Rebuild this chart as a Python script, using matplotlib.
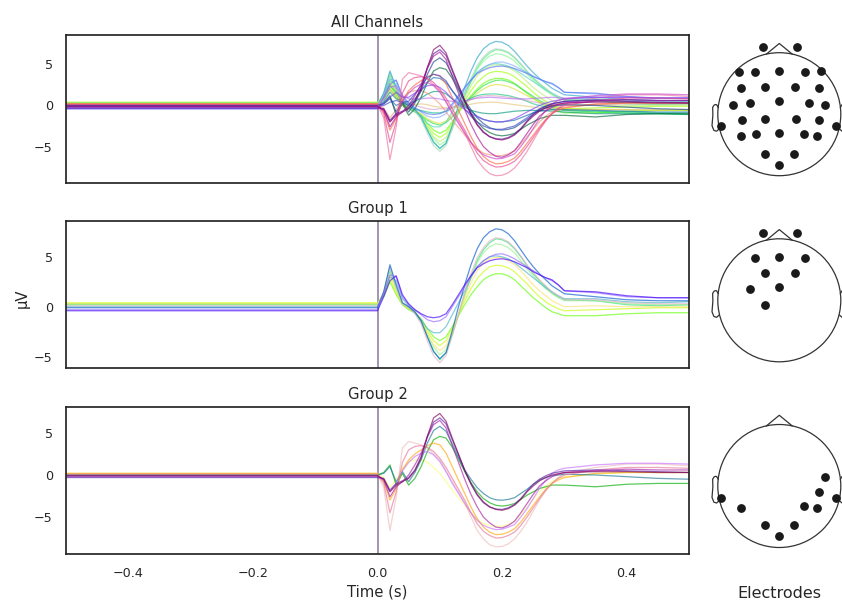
import numpy as np
import matplotlib.pyplot as plt

plt.rcParams.update({
    "font.family": "DejaVu Sans",
    "text.color": "0.15",
    "axes.edgecolor": "0.15",
    "axes.linewidth": 1.25,
    "axes.labelcolor": "0.15",
    "xtick.color": "0.15",
    "ytick.color": "0.15",
})

FIG_W, FIG_H = 842, 603

# sample times (s)
PRE_TIMES = [-0.5, 0.0]
POST_TIMES = [0.01, 0.02, 0.03, 0.04, 0.05, 0.06, 0.07, 0.08, 0.09, 0.10,
              0.11, 0.12, 0.13, 0.14, 0.15, 0.16, 0.17, 0.18, 0.19, 0.20,
              0.21, 0.22, 0.23, 0.24, 0.25, 0.26, 0.27, 0.28, 0.29, 0.30,
              0.35, 0.40, 0.45, 0.50]

# electrode layout on the flattened head (unit radius)
CH_NAMES = ["Fp1", "Fp2", "F7", "F3", "Fz", "F4", "F8",
            "FC5", "FC1", "FC2", "FC6",
            "C5", "C3", "Cz", "C4", "C6",
            "T7", "CP5", "CP1", "CP2", "CP6", "T8",
            "P7", "P3", "Pz", "P4", "P8",
            "O1", "Oz", "O2"]
CH_X = [-0.27, 0.28, -0.65, -0.39, 0.0, 0.41, 0.68,
        -0.62, -0.24, 0.25, 0.64,
        -0.75, -0.47, 0.0, 0.49, 0.75,
        -0.94, -0.61, -0.24, 0.27, 0.64, 0.93,
        -0.62, -0.38, 0.0, 0.40, 0.62,
        -0.24, 0.0, 0.24]
CH_Y = [1.09, 1.09, 0.69, 0.69, 0.71, 0.69, 0.71,
        0.42, 0.45, 0.45, 0.43,
        0.15, 0.18, 0.21, 0.18, 0.15,
        -0.19, -0.09, -0.07, -0.07, -0.09, -0.20,
        -0.35, -0.32, -0.30, -0.32, -0.35,
        -0.64, -0.82, -0.64]

# mean pre-stimulus level (µV), same order as CH_NAMES
BASELINE = [0.3, 0.4, 0.3, 0.2, 0.3, 0.3, 0.2,
            0.2, 0.0, 0.1, 0.2,
            0.1, -0.1, -0.3, 0.0, 0.2,
            0.0, 0.0, -0.4, -0.2, 0.1, 0.2,
            0.0, -0.1, -0.4, -0.2, 0.1,
            -0.3, -0.1, -0.1]

GROUP_1 = ["Fp1", "Fp2", "F3", "Fz", "F4", "FC1", "FC2", "C3", "Cz", "CP1"]
GROUP_2 = ["C6", "CP6", "T7", "T8", "P7", "P4", "P8", "O1", "O2", "Oz"]

# evoked amplitude (µV) at POST_TIMES
FP1 = [1.0, 2.5, 1.2, 0.2, -0.3, -0.6, -1.2, -2.2, -3.0, -3.4, -3.0, -2.0, -0.9, 0.2, 1.2, 2.0, 2.7, 3.1, 3.3, 3.3, 3.1, 2.7, 2.1, 1.5, 0.9, 0.4, -0.1, -0.5, -0.7, -0.9, -0.9, -0.7, -0.6, -0.6]
FP2 = [1.1, 2.8, 1.4, 0.3, -0.2, -0.6, -1.3, -2.5, -3.4, -3.9, -3.4, -2.2, -0.8, 0.6, 1.8, 2.8, 3.5, 4.0, 4.15, 4.1, 3.9, 3.5, 2.9, 2.3, 1.6, 1.0, 0.5, 0.1, -0.2, -0.4, -0.3, -0.2, -0.1, -0.1]
F7 = [0.8, 2.0, 1.0, 0.0, -0.4, -0.8, -1.2, -1.8, -2.2, -2.4, -2.1, -1.4, -0.6, 0.2, 1.0, 1.8, 2.4, 2.8, 3.05, 3.1, 2.9, 2.6, 2.1, 1.6, 1.1, 0.6, 0.2, -0.2, -0.4, -0.6, -0.8, -0.9, -1.0, -1.1]
F3 = [1.3, 3.6, 1.8, 0.3, -0.1, -0.6, -1.5, -3.0, -4.4, -5.3, -4.6, -2.8, -0.8, 1.2, 3.0, 4.6, 5.7, 6.4, 6.8, 6.7, 6.4, 5.8, 5.0, 4.1, 3.3, 2.6, 2.0, 1.4, 1.0, 0.7, 0.6, 0.2, 0.1, 0.2]
FZ = [1.4, 3.9, 1.9, 0.4, 0.0, -0.5, -1.4, -2.8, -4.0, -4.8, -4.3, -2.6, -0.7, 1.2, 2.9, 4.4, 5.4, 6.0, 6.3, 6.2, 5.9, 5.4, 4.6, 3.8, 3.1, 2.4, 1.8, 1.3, 0.9, 0.6, 0.6, 0.3, 0.2, 0.2]
F4 = [1.2, 3.2, 1.6, 0.3, -0.1, -0.5, -1.3, -2.7, -3.8, -4.4, -3.9, -2.5, -0.8, 0.9, 2.4, 3.6, 4.4, 4.8, 4.95, 4.9, 4.6, 4.2, 3.6, 2.9, 2.2, 1.6, 1.1, 0.6, 0.3, 0.0, 0.1, 0.0, 0.0, 0.0]
F8 = [0.8, 2.1, 1.0, 0.0, -0.3, -0.6, -1.0, -1.6, -2.0, -2.2, -1.9, -1.2, -0.6, 0.1, 0.8, 1.5, 2.0, 2.4, 2.55, 2.5, 2.3, 2.0, 1.6, 1.2, 0.8, 0.4, 0.1, -0.1, -0.3, -0.4, -0.5, -0.5, -0.6, -0.6]
FC5 = [0.9, 2.4, 1.6, 0.4, -0.3, -0.5, -0.6, -0.8, -0.9, -0.9, -0.7, -0.3, 0.1, 0.5, 0.9, 1.2, 1.35, 1.4, 1.4, 1.3, 1.2, 1.0, 0.8, 0.5, 0.2, 0.0, -0.2, -0.4, -0.5, -0.6, -0.7, -0.8, -0.9, -0.9]
FC1 = [1.2, 3.0, 2.6, 0.8, 0.1, -0.6, -1.3, -2.2, -2.6, -2.6, -2.0, -0.8, 0.4, 1.6, 2.9, 4.0, 4.6, 5.0, 5.1, 5.0, 4.8, 4.4, 3.9, 3.4, 2.9, 2.4, 1.9, 1.5, 1.1, 0.8, 0.8, 0.5, 0.4, 0.5]
FC2 = [1.5, 4.0, 2.0, 0.3, -0.1, -0.7, -1.7, -3.4, -4.9, -5.6, -4.9, -2.9, -0.8, 1.5, 3.3, 4.9, 5.9, 6.6, 6.9, 6.8, 6.5, 5.9, 5.1, 4.2, 3.4, 2.7, 2.1, 1.5, 1.1, 0.7, 0.7, 0.4, 0.3, 0.3]
FC6 = [0.7, 1.8, 1.2, 0.3, 0.0, 0.1, 0.2, 0.1, -0.1, -0.2, -0.3, -0.3, -0.2, 0.0, 0.15, 0.3, 0.35, 0.4, 0.4, 0.3, 0.2, 0.1, 0.0, -0.1, -0.2, -0.3, -0.35, -0.4, -0.45, -0.5, -0.5, -0.5, -0.5, -0.5]
C5 = [0.5, 1.6, 0.8, 0.6, 0.2, 0.5, 0.9, 1.4, 1.7, 1.7, 1.4, 0.8, 0.3, -0.2, -0.6, -0.8, -0.95, -1.0, -1.0, -0.9, -0.8, -0.7, -0.65, -0.6, -0.6, -0.6, -0.65, -0.7, -0.75, -0.8, -1.0, -1.0, -1.0, -1.1]
C3 = [1.5, 4.2, 2.2, 0.4, 0.0, -0.5, -1.4, -3.0, -4.5, -5.2, -4.6, -2.4, 0.0, 2.2, 4.2, 5.8, 6.9, 7.5, 7.8, 7.7, 7.3, 6.6, 5.7, 4.8, 4.0, 3.3, 2.7, 2.1, 1.7, 1.3, 1.0, 0.7, 0.6, 0.6]
CZ = [1.3, 3.2, 3.0, 1.0, 0.2, -0.3, -0.8, -1.3, -1.5, -1.4, -1.0, 0.0, 1.0, 2.0, 3.1, 4.0, 4.6, 5.0, 5.25, 5.3, 5.1, 4.8, 4.4, 4.0, 3.6, 3.2, 2.9, 2.6, 2.2, 1.6, 1.4, 1.0, 0.9, 0.9]
C4 = [1.0, 2.6, 2.0, 0.6, 0.3, 0.0, -0.2, -0.4, -0.5, -0.4, -0.4, -0.2, 0.1, 0.4, 0.7, 1.0, 1.15, 1.2, 1.15, 1.1, 1.0, 0.9, 0.75, 0.6, 0.45, 0.3, 0.2, 0.1, 0.05, 0.0, 0.1, 0.2, 0.2, 0.2]
C6 = [-0.3, -1.5, -0.5, 0.8, 1.6, 1.8, 1.8, 1.5, 0.9, 0.2, -0.8, -1.8, -2.7, -3.6, -4.5, -5.3, -5.8, -6.0, -6.1, -6.1, -5.9, -5.5, -4.7, -3.8, -2.9, -2.0, -1.3, -0.8, -0.4, -0.2, 0.1, 0.3, 0.3, 0.3]
T7 = [0.3, 1.2, -1.2, 0.2, -1.2, -0.4, 1.0, 2.8, 4.2, 4.6, 4.4, 3.3, 1.9, 0.4, -0.9, -2.0, -2.8, -3.3, -3.6, -3.7, -3.6, -3.4, -2.9, -2.4, -2.0, -1.6, -1.4, -1.2, -1.2, -1.2, -1.4, -1.1, -1.0, -1.0]
CP5 = [0.2, 0.8, 0.0, 0.4, 0.0, 0.8, 1.8, 2.8, 3.4, 3.3, 2.8, 1.8, 0.9, 0.0, -0.7, -1.3, -1.7, -1.9, -2.0, -2.0, -1.9, -1.8, -1.5, -1.2, -0.9, -0.7, -0.6, -0.5, -0.5, -0.5, -0.6, -0.7, -0.8, -0.8]
CP1 = [1.0, 2.6, 3.1, 1.2, 0.3, -0.3, -0.7, -1.0, -1.1, -1.0, -0.7, 0.2, 1.2, 2.2, 3.1, 3.9, 4.3, 4.6, 4.75, 4.8, 4.7, 4.5, 4.2, 3.9, 3.5, 3.2, 2.9, 2.7, 2.2, 1.6, 1.5, 1.1, 0.9, 0.9]
CP2 = [0.8, 2.2, 2.4, 1.2, 0.8, 0.8, 0.8, 0.9, 0.9, 0.8, 0.6, 0.5, 0.55, 0.6, 0.75, 0.9, 0.95, 1.0, 0.95, 0.9, 0.85, 0.8, 0.8, 0.8, 0.85, 0.9, 0.95, 1.0, 0.95, 0.9, 1.0, 1.0, 0.9, 0.9]
CP6 = [-1.5, -6.6, -2.6, 3.2, 4.0, 3.8, 3.6, 3.2, 2.5, 1.8, 0.5, -0.8, -2.0, -3.3, -5.0, -6.6, -7.6, -8.3, -8.55, -8.5, -8.2, -7.6, -6.7, -5.6, -4.3, -3.0, -1.9, -1.0, -0.3, 0.2, 0.9, 1.3, 1.3, 1.1]
T8 = [-0.8, -3.0, -1.6, 0.6, 1.8, 2.5, 3.0, 3.5, 3.8, 3.6, 2.6, 1.0, -0.6, -2.2, -3.8, -5.2, -6.2, -6.8, -7.1, -7.05, -6.8, -6.4, -5.6, -4.6, -3.6, -2.6, -1.7, -1.0, -0.6, -0.3, 0.2, 0.3, 0.3, 0.3]
P7 = [0.2, 1.0, -0.8, 0.4, -0.8, 0.3, 1.8, 3.8, 5.3, 5.8, 5.2, 3.7, 2.1, 0.6, -0.5, -1.5, -2.2, -2.7, -2.95, -3.0, -2.9, -2.7, -2.2, -1.7, -1.1, -0.6, -0.3, -0.1, 0.0, 0.1, 0.0, -0.2, -0.4, -0.5]
P3 = [0.0, 0.4, 0.6, 0.4, 0.5, 1.4, 2.4, 3.4, 3.8, 3.6, 3.0, 1.8, 0.7, -0.4, -1.3, -2.0, -2.5, -2.8, -2.9, -2.9, -2.7, -2.5, -2.0, -1.5, -0.9, -0.4, -0.1, 0.2, 0.35, 0.5, 0.7, 0.7, 0.6, 0.6]
PZ = [0.3, 1.0, 1.6, 1.0, 1.0, 1.5, 2.0, 2.4, 2.5, 2.2, 1.6, 0.8, 0.1, -0.5, -1.0, -1.4, -1.7, -1.9, -2.0, -2.0, -1.85, -1.6, -1.2, -0.8, -0.4, 0.0, 0.3, 0.5, 0.65, 0.8, 1.0, 1.0, 0.9, 0.9]
P4 = [-0.5, -2.0, -1.0, 0.5, 1.5, 2.2, 2.6, 2.8, 2.4, 1.6, 0.4, -1.0, -2.2, -3.4, -4.5, -5.4, -6.0, -6.3, -6.5, -6.45, -6.2, -5.9, -5.0, -4.0, -2.8, -1.6, -0.6, 0.2, 0.6, 0.8, 1.2, 1.4, 1.4, 1.3]
P8 = [-1.0, -4.5, -2.0, 1.5, 3.0, 3.4, 3.5, 3.3, 2.8, 2.0, 0.9, -0.4, -1.7, -3.0, -4.5, -5.8, -6.7, -7.2, -7.5, -7.45, -7.2, -6.8, -6.0, -5.0, -3.9, -2.8, -1.8, -1.0, -0.4, 0.0, 0.6, 0.9, 0.9, 0.8]
O1 = [-0.4, -1.8, -1.0, -0.7, -0.3, 0.6, 2.2, 4.6, 6.3, 6.8, 6.1, 4.2, 2.4, 0.5, -1.1, -2.4, -3.3, -3.8, -4.05, -4.1, -3.9, -3.5, -2.8, -1.9, -1.1, -0.5, -0.1, 0.2, 0.35, 0.5, 0.6, 0.5, 0.4, 0.3]
OZ = [-0.5, -2.0, -1.2, -0.8, -0.4, 0.5, 2.0, 4.6, 6.8, 7.33, 6.4, 4.4, 2.5, 0.6, -1.0, -2.3, -3.2, -3.8, -4.1, -4.2, -4.0, -3.6, -2.9, -2.0, -1.3, -0.7, -0.3, 0.0, 0.15, 0.3, 0.4, 0.4, 0.3, 0.3]
O2 = [-0.6, -2.6, -1.4, -0.8, 0.0, 1.2, 2.6, 4.5, 6.0, 6.5, 5.6, 3.5, 1.5, -0.5, -2.3, -3.8, -5.0, -5.7, -6.2, -6.3, -6.0, -5.5, -4.5, -3.4, -2.3, -1.3, -0.7, -0.2, 0.1, 0.3, 0.5, 0.7, 0.6, 0.6]

WAVES = dict(zip(CH_NAMES, [FP1, FP2, F7, F3, FZ, F4, F8,
                            FC5, FC1, FC2, FC6,
                            C5, C3, CZ, C4, C6,
                            T7, CP5, CP1, CP2, CP6, T8,
                            P7, P3, PZ, P4, P8,
                            O1, OZ, O2]))


def pixel_axes(fig, left, top, width, height):
    return fig.add_axes([left / FIG_W, 1 - (top + height) / FIG_H,
                         width / FIG_W, height / FIG_H])


def spatial_colors(names):
    # RGB from the 3-D sensor direction, scaled over the channels shown
    idx = [CH_NAMES.index(n) for n in names]
    x = np.asarray(CH_X)[idx]
    y = np.asarray(CH_Y)[idx]
    r = np.hypot(x, y)
    theta = r * np.pi / 2
    phi = np.arctan2(y, x)
    rgb = np.column_stack([np.sin(theta) * np.cos(phi),
                           np.sin(theta) * np.sin(phi),
                           np.cos(theta)])
    rgb -= rgb.min(axis=0)
    rgb /= np.maximum(rgb.max(axis=0), 1e-16)
    return rgb


def plot_traces(ax, names, title):
    colors = spatial_colors(names)
    times = PRE_TIMES + POST_TIMES
    lo, hi = 0.0, 0.0
    for name, color in zip(names, colors):
        base = BASELINE[CH_NAMES.index(name)]
        values = [base, base] + WAVES[name]
        ax.plot(times, values, color=color, lw=0.9, alpha=0.65)
        lo, hi = min(lo, min(values)), max(hi, max(values))
    ax.axvline(0, color="#9c8ca8", lw=1.3, zorder=1)
    ax.set_xlim(-0.5, 0.5)
    ax.set_ylim(lo * 1.1, hi * 1.1)
    ax.set_yticks([-5, 0, 5])
    ax.set_xticks([-0.4, -0.2, 0.0, 0.2, 0.4])
    ax.tick_params(length=0, pad=9.5, labelsize=9.2)
    ax.set_title(title, fontsize=10.7)


def draw_head(ax, names):
    ax.add_patch(plt.Circle((0, 0), 1.0, fill=False, lw=0.9, ec="0.2"))
    dx = np.cos(np.arccos(np.deg2rad(12)))
    dy = np.sin(np.arccos(np.deg2rad(12)))
    ax.plot([-dx, 0, dx], [dy, 1.15, dy], color="0.2", lw=0.9)
    ear_x = np.array([.497, .510, .518, .5299, .5419, .54, .547, .532, .510, .489]) * 2
    ear_y = np.array([.0555, .0775, .0783, .0746, .0555, -.0055, -.0932, -.1313, -.1384, -.1199]) * 2
    ax.plot(ear_x, ear_y, color="0.2", lw=0.9)
    ax.plot(-ear_x, ear_y, color="0.2", lw=0.9)
    idx = [CH_NAMES.index(n) for n in names]
    ax.scatter(np.asarray(CH_X)[idx], np.asarray(CH_Y)[idx], s=28,
               color="0.1", zorder=3)
    half = 90 / 61.5
    ax.set_xlim(-half, half)
    ax.set_ylim(-half, half)
    ax.set_aspect("equal")
    ax.axis("off")


fig = plt.figure(figsize=(FIG_W / 100, FIG_H / 100), dpi=100)

panels = [
    (35.0, 147.7, CH_NAMES, "All Channels", 114.2),
    (221.0, 147.3, GROUP_1, "Group 1", 300.3),
    (407.3, 146.7, GROUP_2, "Group 2", 486.0),
]

for i, (top, height, names, title, head_cy) in enumerate(panels):
    ax = pixel_axes(fig, 66, top, 623, height)
    plot_traces(ax, names, title)
    if i < 2:
        ax.set_xticklabels([])
    else:
        ax.set_xlabel("Time (s)", fontsize=10.6, labelpad=3)

    head_ax = pixel_axes(fig, 779.3 - 90, head_cy - 90, 180, 180)
    draw_head(head_ax, names)

fig.text(22 / FIG_W, 1 - 298 / FIG_H, "µV", rotation=90, fontsize=10.6,
         ha="center", va="center")
fig.text(779 / FIG_W, 1 - 593 / FIG_H, "Electrodes", fontsize=11.5,
         ha="center", va="center")

fig.savefig("out.png", dpi=100)
